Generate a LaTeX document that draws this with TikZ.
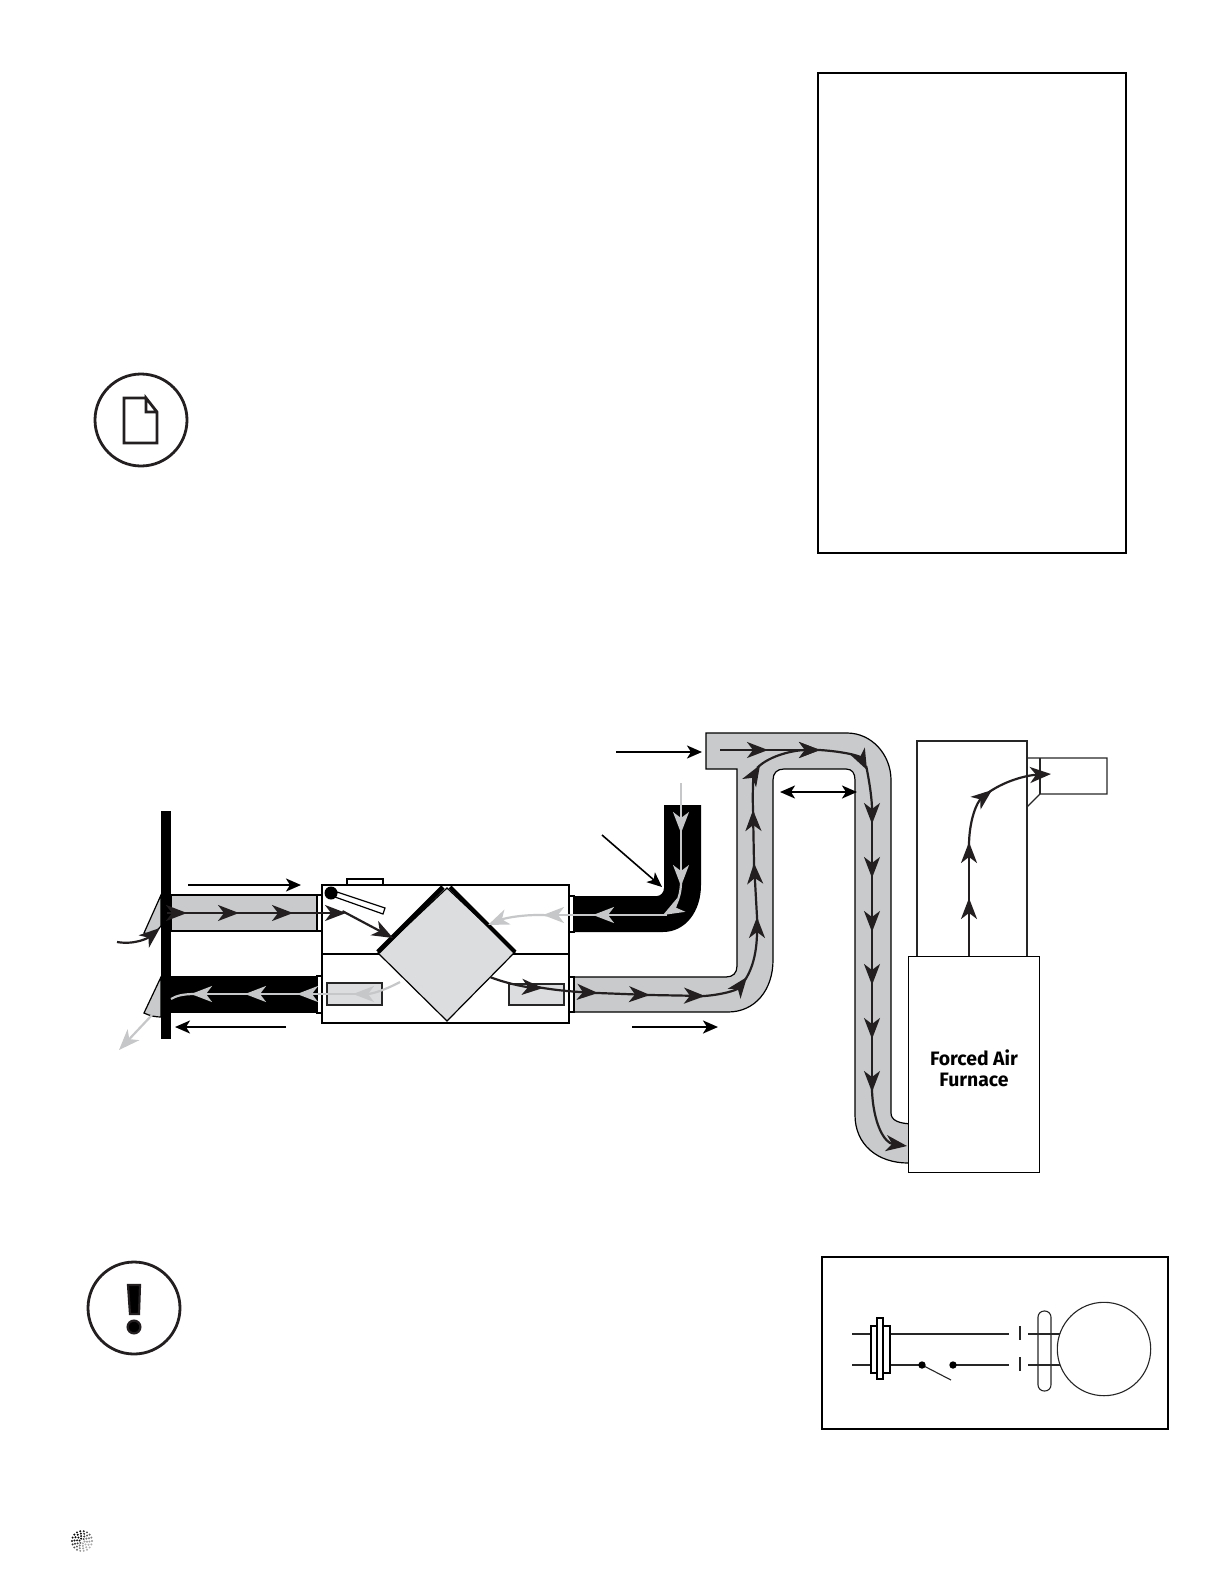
\documentclass[tikz,border=0pt]{standalone}
\usepackage{fontspec}
\setsansfont{Fira Sans}
\usetikzlibrary{arrows.meta}
\definecolor{ductgray}{HTML}{C8CACB}
\definecolor{coregray}{HTML}{DCDDDF}
\definecolor{flowdark}{HTML}{231F20}
\definecolor{flowgray}{HTML}{C6C7C8}
\tikzset{
  ductline/.style={draw=black,line width=0.6pt},
  thinbox/.style={draw=black,line width=0.6pt,fill=white},
  flowdark/.style={draw=flowdark,line width=1.1pt,shorten <=-2pt,-{Stealth[length=10.5pt,width=8pt,inset=3pt]}},
  flowgray/.style={draw=flowgray,line width=1.1pt,shorten <=-2pt,-{Stealth[length=10.5pt,width=8pt,inset=3pt]}},
  bigarrow/.style={draw=black,line width=1pt,-{Stealth[length=7.5pt,width=6.5pt,inset=2pt]}},
  wire/.style={draw=black!85,line width=0.55pt},
  frame/.style={draw=black,line width=1.1pt},
  iconline/.style={draw=flowdark,line width=1.4pt},
  softline/.style={draw=black!85,line width=0.55pt}
}
\begin{document}
\begin{tikzpicture}[x=0.5pt,y=-0.5pt]
  \useasboundingbox (0,0) rectangle (1224,1584);
  \draw[frame] (818,73) rectangle (1126,553);
  \draw[iconline] (141,420) circle [radius=46];
  \draw[iconline,line join=miter] (146,398) -- (124,398) -- (124,443) -- (157,443) -- (157,412) -- (146,398) -- (146,412) -- (157,412);
  \draw[iconline] (134,1308) circle [radius=46];
  \fill[flowdark] (128,1285) -- (140,1285) -- (139,1314) -- (130,1314) -- cycle;
  \fill[flowdark] (134,1327) circle [radius=6.4];
  \draw[ductline,fill=ductgray] (574,977) -- (726,977) .. controls (733,977) and (737,973) .. (737,966) -- (737,769) -- (706,769) -- (706,733) -- (847,733) .. controls (872,733) and (891,755) .. (891,780) -- (891,1113) .. controls (891,1120) and (898,1124) .. (915,1124) -- (915,1163) -- (908,1163) .. controls (878,1163) and (855,1145) .. (855,1115) -- (855,780) .. controls (855,773) and (852,769) .. (846,769) -- (784,769) .. controls (777,769) and (773,773) .. (773,780) -- (773,960) .. controls (773,990) and (755,1012) .. (728,1012) -- (574,1012) -- cycle;
  \fill[black] (574,896) -- (657,896) .. controls (661,896) and (664,892) .. (664,888) -- (664,805) -- (701,805) -- (701,885) .. controls (701,912) and (685,932) .. (663,932) -- (574,932) -- cycle;
  \draw[ductline,fill=ductgray] (171,895) rectangle (317,931);
  \fill[black] (171,976) rectangle (317,1013);
  \draw[thinbox] (317,895) rectangle (322,931);
  \draw[thinbox] (317,976) rectangle (322,1013);
  \draw[thinbox] (569,896) rectangle (574,932);
  \draw[thinbox] (569,977) rectangle (574,1012);
  \draw[ductline,fill=ductgray] (161,895) -- (144,933) .. controls (150,936) and (156,932) .. (161,926) -- cycle;
  \draw[ductline,fill=ductgray] (161,977) -- (144,1013) .. controls (150,1016) and (156,1017) .. (161,1017) -- cycle;
  \fill[black] (161,811) rectangle (171,1039);
  \draw[thinbox] (347,879) rectangle (383,885);
  \draw[thinbox,line width=0.7pt] (322,885) rectangle (569,1023);
  \draw[ductline,line width=0.7pt] (322,954) -- (569,954);
  \draw[softline,fill=coregray] (327,983) rectangle (382,1005);
  \draw[softline,fill=coregray] (509,984) rectangle (564,1005);
  \draw[thinbox] (337,892) -- (385,908) -- (383,914) -- (335,897) -- cycle;
  \fill[black] (331,893) circle [radius=6.5];
  \coordinate (coreT) at (447,888);
  \coordinate (coreR) at (515,952);
  \coordinate (coreB) at (447,1021);
  \coordinate (coreL) at (378,953);
  \draw[ductline,fill=coregray] (coreT) -- (coreR) -- (coreB) -- (coreL) -- cycle;
  \draw[line width=2.4pt] (443,887) -- (378,952);
  \draw[line width=2pt] (450,887) -- (515,952);
  \draw[softline] (917,956) -- (917,741) -- (1027,741) -- (1027,956);
  \draw[softline] (1027,758) -- (1107,758) -- (1107,794) -- (1040,794) -- (1027,807);
  \draw[softline] (1040,758) -- (1040,794);
  \node[thinbox,minimum width=65.5pt,minimum height=108pt,inner sep=0pt,anchor=north west] (furnace) at (908,956) {};
  \node[font=\sffamily\bfseries\fontsize{9.7}{10.3}\selectfont,align=center] (furnacelabel) at (974,1068) {Forced Air\\Furnace};
  \draw[bigarrow] (188,885) -- (301,885);
  \draw[bigarrow] (286,1027) -- (175,1027);
  \draw[bigarrow] (632,1027) -- (718,1027);
  \draw[bigarrow] (616,752) -- (702,752);
  \draw[bigarrow,line width=0.8pt] (602,835) -- (662,887);
  \draw[bigarrow,{Stealth[length=7.5pt,width=6.5pt,inset=2pt]}-{Stealth[length=7.5pt,width=6.5pt,inset=2pt]}] (780,792) -- (857,792);
  \draw[flowdark,shorten <=0pt] (117,942) .. controls (135,945) and (148,938) .. (160,928);
  \foreach \a/\b in {171/187,187/239,239/293,293/346} \draw[flowdark] (\a,913) -- (\b,913);
  \draw[flowdark] (346,913) -- (393,938);
  \draw[flowgray,shorten <=0pt] (400,982) .. controls (385,990) and (372,994) .. (353,994);
  \foreach \a/\b in {353/297,297/245,245/191} \draw[flowgray] (\a,994) -- (\b,994);
  \draw[flowgray,-] (191,994) .. controls (182,994) and (176,996) .. (171,999);
  \draw[flowgray,shorten <=0pt] (152,1015) -- (119,1050);
  \draw[flowgray,shorten <=0pt] (681,783) -- (681,833);
  \draw[flowgray] (681,833) -- (681,886);
  \draw[flowgray] (681,886) .. controls (681,900) and (672,910) .. (663,915);
  \draw[flowgray] (663,915) -- (593,915);
  \draw[flowgray] (593,915) -- (543,915);
  \draw[flowgray] (543,915) .. controls (525,914) and (505,918) .. (488,925);
  \draw[flowdark,shorten <=0pt] (490,977) .. controls (505,983) and (525,987) .. (543,988);
  \draw[flowdark] (543,988) .. controls (560,991) and (580,992) .. (598,993);
  \draw[flowdark] (598,993) -- (650,995);
  \draw[flowdark] (650,995) -- (705,996);
  \draw[flowdark] (705,996) .. controls (722,995) and (737,990) .. (747,977);
  \draw[flowdark] (747,977) .. controls (755,965) and (757,945) .. (757,917);
  \draw[flowdark] (757,917) -- (754,863);
  \draw[flowdark] (754,863) -- (753,810);
  \draw[flowdark] (753,810) .. controls (752,790) and (754,775) .. (760,765);
  \draw[flowdark] (760,765) .. controls (770,755) and (795,750) .. (820,750);
  \draw[flowdark,shorten <=0pt] (720,750) -- (768,750);
  \draw[flowdark] (768,750) -- (820,750);
  \draw[flowdark] (820,750) .. controls (842,751) and (860,756) .. (867,770);
  \draw[flowdark] (867,770) .. controls (870,785) and (872,800) .. (872,824);
  \foreach \a/\b in {824/878,878/932,932/985,985/1039,1039/1092} \draw[flowdark] (872,\a) -- (872,\b);
  \draw[flowdark] (872,1092) .. controls (873,1125) and (885,1143) .. (907,1146);
  \draw[flowdark,shorten <=0pt] (969,956) -- (969,898);
  \draw[flowdark] (969,898) -- (969,842);
  \draw[flowdark] (969,842) .. controls (969,820) and (977,802) .. (992,790);
  \draw[flowdark] (992,790) .. controls (1008,779) and (1030,775) .. (1051,774);
  \draw[frame] (822,1257) rectangle (1168,1429);
  \draw[wire] (852,1334) -- (871,1334);
  \draw[wire] (852,1365) -- (871,1365);
  \draw[wire] (890,1334) -- (1009,1334);
  \draw[wire] (890,1365) -- (922,1365);
  \draw[wire] (953,1365) -- (1009,1365);
  \draw[wire] (1028,1334) -- (1060,1334);
  \draw[wire] (1028,1365) -- (1060,1365);
  \draw[wire] (1020,1326) -- (1020,1340);
  \draw[wire] (1020,1357) -- (1020,1371);
  \draw[thinbox] (871,1326) rectangle (890,1373);
  \draw[thinbox] (877,1318) rectangle (883,1379);
  \draw[wire] (922,1365) -- (951,1380);
  \fill[black] (922,1365) circle [radius=3.7];
  \fill[black] (953,1365) circle [radius=3.7];
  \draw[wire,rounded corners=3.1pt] (1038,1311) rectangle (1051,1391);
  \draw[wire] (1104,1349) circle [radius=46.7];
  \foreach \r/\n in {2.5/6,5/10,7.5/14,10/18} {
    \foreach \i in {1,...,\n} {
      \pgfmathsetmacro\ang{360*\i/\n+\r*20}
      \pgfmathsetmacro\tone{65+35*cos(\ang-135)}
      \fill[black!\tone] ({82+\r*cos(\ang)},{1541-\r*sin(\ang)}) circle [radius=1.1];
    }
  }
\end{tikzpicture}
\end{document}
